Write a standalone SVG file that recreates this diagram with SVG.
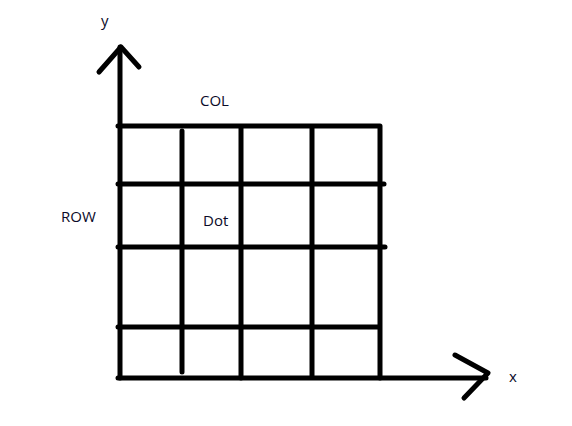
<svg xmlns="http://www.w3.org/2000/svg" width="572" height="426" viewBox="0 0 572 426">
<style>
.ln{stroke:#000;stroke-width:5;stroke-linecap:round;fill:none;stroke-linejoin:round}
.t{font-family:"Open Sans","Noto Sans",sans-serif;font-size:15px;fill:#0a0a28}
</style>
<rect width="572" height="426" fill="#fff"/>
<g id="axes">
<path class="ln" d="M120,378 V47"/>
<path class="ln" d="M99,72 L121,47 L139,67"/>
<path class="ln" d="M118,378 H486"/>
<path class="ln" d="M455,355 L488,373 L464,398"/>
</g>
<g id="grid">
<path class="ln" d="M118,126 H380 V378"/>
<path class="ln" d="M118,184 H384"/>
<path class="ln" d="M118,247 H385"/>
<path class="ln" d="M118,327 H379"/>
<path class="ln" d="M182,131 V372"/>
<path class="ln" d="M241,127 V378"/>
<path class="ln" d="M312,127 V377"/>
</g>
<g id="labels">
<text class="t" x="101" y="26">y</text>
<text class="t" x="200" y="106">COL</text>
<text class="t" x="61" y="222">ROW</text>
<text class="t" x="203" y="226">Dot</text>
<text class="t" x="509" y="382">x</text>
</g>
</svg>
